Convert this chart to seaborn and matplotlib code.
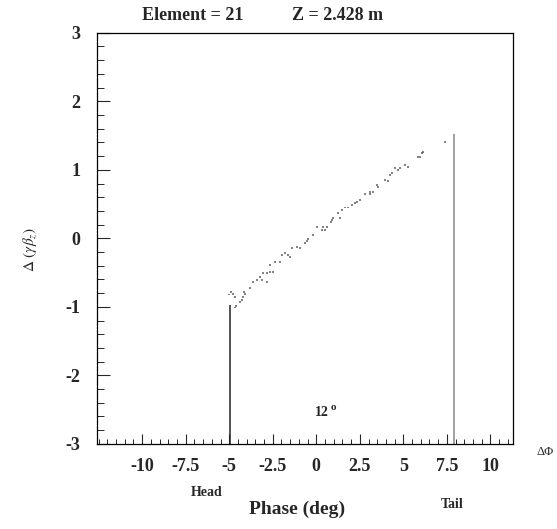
import matplotlib
matplotlib.use("Agg")
import matplotlib.pyplot as plt
from matplotlib.ticker import FixedLocator, MultipleLocator, FuncFormatter
import numpy as np
import seaborn as sns

# particle coordinates: phase (deg), delta(gamma beta_z)
phase = [-4.89, -4.77, -4.66, -5.00, -4.14, -4.08, -4.20, -4.25, -4.37, -4.66,
         -4.60, -3.79, -3.62, -3.39, -3.22, -3.05, -2.82, -2.64, -2.47, -3.10,
         -2.82, -2.64, -2.36, -2.07, -1.95, -1.78, -1.61, -1.49, -1.38, -1.09,
         -0.92, -0.63, -0.52, -0.46, -0.17, 0.06, 0.34, 0.40, 0.63, 0.86,
         0.52, 0.92, 0.98, 1.38, 1.26, 1.49, 1.67, 1.84, 2.07, 2.24,
         2.36, 2.53, 2.82, 3.10, 3.28, 3.10, 3.56, 3.51, 3.97, 4.14,
         4.25, 4.37, 4.54, 4.71, 4.83, 5.11, 5.29, 5.86, 5.98, 6.09,
         6.15, 7.41]
dgb = [-0.78, -0.81, -0.85, -0.82, -0.78, -0.81, -0.85, -0.90, -0.93, -1.01,
       -0.99, -0.72, -0.64, -0.61, -0.56, -0.50, -0.50, -0.49, -0.49, -0.61,
       -0.64, -0.39, -0.34, -0.34, -0.24, -0.21, -0.24, -0.27, -0.14, -0.12,
       -0.14, -0.07, -0.04, -0.01, 0.05, 0.17, 0.12, 0.17, 0.17, 0.24,
       0.12, 0.27, 0.30, 0.30, 0.37, 0.42, 0.45, 0.45, 0.49, 0.52,
       0.53, 0.56, 0.64, 0.68, 0.68, 0.64, 0.75, 0.78, 0.85, 0.84,
       0.93, 0.96, 1.03, 1.00, 1.03, 1.07, 1.04, 1.18, 1.19, 1.25,
       1.26, 1.41]

marker_phase = [-4.94, 7.93]
marker_top = [-0.97, 1.52]
marker_color = ["#222222", "#888888"]

x_major = [-10, -7.5, -5, -2.5, 0, 2.5, 5, 7.5, 10]

sns.set_style("ticks")
plt.rcParams["font.family"] = ["Liberation Serif", "DejaVu Serif"]
plt.rcParams["mathtext.fontset"] = "stix"
plt.rcParams["axes.unicode_minus"] = False

fig = plt.figure(figsize=(5.57, 5.29), dpi=100)
ax = fig.add_axes([0.174, 0.161, 0.747, 0.777])

sns.scatterplot(x=phase, y=dgb, ax=ax, s=2, marker="s", color="#333333",
                edgecolor="none", alpha=0.6, legend=False)
for p, top, c in zip(marker_phase, marker_top, marker_color):
    ax.vlines(p, -3, top, color=c, lw=1.1)

ax.set_xlim(-12.6, 11.3)
ax.set_ylim(-3, 3)
ax.xaxis.set_major_locator(FixedLocator(x_major))
ax.xaxis.set_minor_locator(MultipleLocator(0.5))
ax.yaxis.set_major_locator(MultipleLocator(1))
ax.yaxis.set_minor_locator(MultipleLocator(0.2))
ax.xaxis.set_major_formatter(FuncFormatter(lambda v, _: "%g" % v))
ax.yaxis.set_major_formatter(FuncFormatter(lambda v, _: "%g" % v))
ax.tick_params(which="major", direction="in", length=7, width=0.8,
               labelsize=13, pad=10)
ax.tick_params(which="minor", direction="in", length=3.5, width=0.7)
ax.tick_params(axis="y", which="major", length=9, pad=12)
ax.tick_params(axis="y", which="minor", length=5)
for lab in ax.get_xticklabels() + ax.get_yticklabels():
    lab.set_fontweight("bold")
for sp in ax.spines.values():
    sp.set_linewidth(0.9)
    sp.set_color("black")

fig.text(193 / 557, 1 - 15 / 529, "Element = 21", ha="center", va="center",
         fontsize=13, fontweight="bold")
fig.text(338 / 557, 1 - 15 / 529, "Z = 2.428 m", ha="center", va="center",
         fontsize=13, fontweight="bold")
fig.text(30 / 557, 1 - 250 / 529, r"$\Delta\ (\gamma\beta_z)$", ha="center",
         va="center", rotation=90, fontsize=11)
fig.text(297 / 557, 1 - 509 / 529, "Phase (deg)", ha="center", va="center",
         fontsize=14, fontweight="bold")
fig.text(207 / 557, 1 - 493 / 529, "Head", ha="center", va="center",
         fontsize=10, fontweight="bold")
fig.text(452 / 557, 1 - 505 / 529, "Tail", ha="center", va="center",
         fontsize=10, fontweight="bold")
fig.text(545 / 557, 1 - 452 / 529, "\u0394\u03a6", ha="center", va="center",
         fontsize=9)
fig.text(322 / 557, 1 - 413 / 529, "12", ha="center", va="center",
         fontsize=10, fontweight="bold")
fig.text(333 / 557, 1 - 407 / 529, "o", ha="center", va="center",
         fontsize=8, fontweight="bold")

fig.savefig("out.png", dpi=100)
